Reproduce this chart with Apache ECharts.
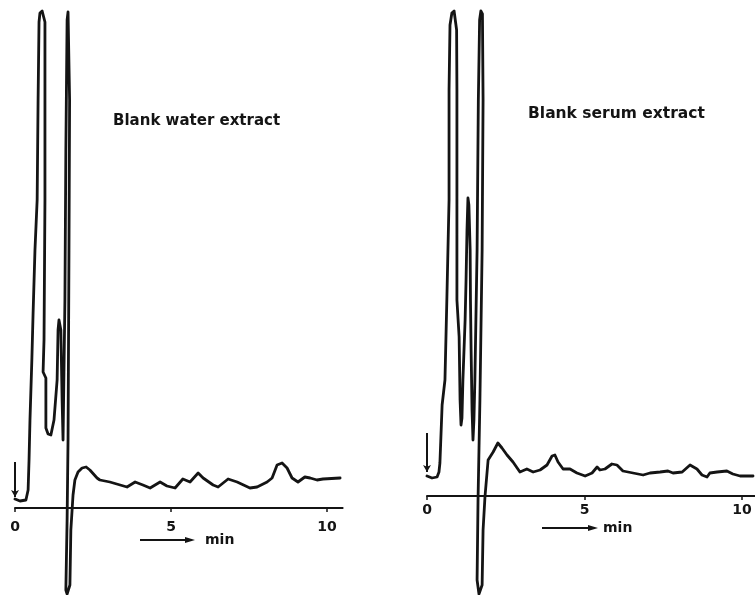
<!DOCTYPE html>
<html>
<head>
<meta charset="utf-8">
<script src="https://cdn.jsdelivr.net/npm/echarts@6/dist/echarts.min.js"></script>
<style>
  html, body { margin: 0; padding: 0; background: #fff; }
  #chart { width: 755px; height: 595px; }
</style>
</head>
<body>
<div id="chart"></div>
<script>
// Two HPLC traces of blank extracts: retention time (min) against detector response (arbitrary units).
const tickLabels = [0, 5, 10];
const panelTitles = ['Blank water extract', 'Blank serum extract'];
const axisUnit = 'min';

// Blank water extract
const waterTime = [0, 0.16, 0.35, 0.42, 0.45, 0.48, 0.54, 0.58, 0.64, 0.71, 0.74, 0.77, 0.80, 0.87, 0.93, 0.96,
  0.96, 0.93, 0.90, 0.99, 0.99, 1.06, 1.15, 1.25, 1.35, 1.38, 1.41, 1.47, 1.51, 1.54,
  1.60, 1.63, 1.67, 1.70, 1.73, 1.75, 1.73, 1.70, 1.67, 1.63, 1.67, 1.73, 1.76, 1.79,
  1.86, 1.92, 2.02, 2.15, 2.28, 2.40, 2.63, 2.72, 3.04, 3.37, 3.59, 3.85, 4.10, 4.33,
  4.65, 4.87, 5.13, 5.38, 5.61, 5.87, 6.03, 6.35, 6.51, 6.83, 7.12, 7.53, 7.76, 8.08,
  8.24, 8.40, 8.56, 8.72, 8.88, 9.07, 9.29, 9.46, 9.68, 9.87, 10.42];
const waterResponse = [1.8, 1.4, 1.6, 3.6, 9.6, 17.6, 29.6, 39.0, 51.6, 61.6, 81.6, 97.2, 99.0, 99.4, 99.0, 97.2,
  61.6, 33.6, 27.2, 26.0, 16.0, 14.8, 14.6, 17.6, 25.6, 35.6, 37.6, 35.6, 21.6, 13.6,
  41.6, 71.6, 97.6, 99.2, 99.2, 81.6, 51.6, 13.6, -2.4, -16.4, -17.2, -17.2, -15.4, -4.4,
  2.6, 5.6, 7.2, 8.0, 8.2, 7.6, 6.0, 5.6, 5.2, 4.6, 4.2, 5.2, 4.6, 4.0,
  5.2, 4.4, 4.0, 5.8, 5.2, 7.0, 6.0, 4.6, 4.2, 5.8, 5.2, 4.0, 4.2, 5.2,
  6.0, 8.6, 9.0, 8.0, 6.0, 5.2, 6.2, 6.0, 5.6, 5.8, 6.0];
const waterInjection = [9.2, 2.2];

// Blank serum extract
const serumTime = [0, 0.16, 0.32, 0.38, 0.41, 0.48, 0.57, 0.63, 0.70, 0.70, 0.73, 0.79, 0.86, 0.92, 0.94,
  0.95, 0.95, 0.95, 1.02, 1.05, 1.08, 1.11, 1.14, 1.21, 1.24, 1.27, 1.30, 1.33, 1.37, 1.38,
  1.40, 1.43, 1.46, 1.49, 1.52, 1.59, 1.63, 1.67, 1.71, 1.76, 1.78, 1.75, 1.68, 1.62,
  1.59, 1.65, 1.71, 1.75, 1.78, 1.84, 1.94, 2.10, 2.25, 2.38, 2.54, 2.73, 2.95, 3.17,
  3.37, 3.59, 3.81, 3.97, 4.06, 4.16, 4.32, 4.54, 4.76, 5.02, 5.24, 5.40, 5.49, 5.65,
  5.87, 6.03, 6.22, 6.54, 6.86, 7.08, 7.40, 7.65, 7.81, 8.10, 8.35, 8.57, 8.73, 8.89,
  8.98, 9.21, 9.52, 9.71, 9.94, 10.35];
const serumResponse = [4.0, 3.6, 3.8, 4.8, 6.6, 18.2, 23.2, 39.2, 59.2, 81.2, 94.2, 96.6, 97.0, 96.6, 93.2,
  81.2, 59.2, 39.2, 31.8, 19.2, 14.2, 15.6, 23.2, 35.2, 43.2, 53.2, 59.6, 58.2, 49.2, 39.2,
  29.2, 17.2, 11.2, 15.2, 23.2, 49.2, 79.2, 95.2, 97.0, 96.4, 79.2, 49.2, 19.2, -0.8,
  -16.8, -19.6, -19.6, -17.8, -6.8, -0.2, 7.2, 8.8, 10.6, 9.6, 8.2, 6.8, 4.8, 5.4,
  4.8, 5.2, 6.2, 8.0, 8.2, 6.8, 5.4, 5.4, 4.6, 4.0, 4.6, 5.8, 5.2, 5.4,
  6.4, 6.2, 5.0, 4.6, 4.2, 4.6, 4.8, 5.0, 4.6, 4.8, 6.2, 5.4, 4.2, 3.8,
  4.6, 4.8, 5.0, 4.4, 4.0, 4.0];
const serumInjection = [12.6, 4.8];

const ink = '#141414';
const font = 'DejaVu Sans';
const zip = (xs, ys) => xs.map((x, i) => [x, ys[i]]);

// The time axis sits on the zero-response line (grid bottom); negative
// excursions of the trace are drawn below it, unclipped.
function xAxisFor(gridIndex, max, labelMargin) {
  return {
    type: 'value', gridIndex, min: 0, max, position: 'bottom',
    axisLine: { onZero: false, lineStyle: { color: ink, width: 2 } },
    axisTick: { customValues: tickLabels, length: 4, lineStyle: { color: ink, width: 1.5 } },
    axisLabel: {
      customValues: tickLabels, margin: labelMargin, color: ink,
      fontFamily: font, fontWeight: 'bold', fontSize: 14
    },
    splitLine: { show: false }
  };
}
function yAxisFor(gridIndex) {
  return { type: 'value', gridIndex, min: 0, max: 100, show: false };
}
function traceSeries(idx, data, inj) {
  return {
    type: 'line', xAxisIndex: idx, yAxisIndex: idx, data,
    showSymbol: false, smooth: false, clip: false,
    lineStyle: { color: ink, width: 2.8, join: 'round', cap: 'round' },
    markLine: {
      silent: true, animation: false,
      symbol: ['none', 'arrow'], symbolSize: [6, 7],
      lineStyle: { color: ink, width: 2, type: 'solid' },
      label: { show: false },
      data: [[{ coord: [0, inj[0]] }, { coord: [0, inj[1]] }]]
    }
  };
}

function unitArrow(x, y, len) {
  return [
    { type: 'line', shape: { x1: x, y1: y, x2: x + len - 6, y2: y }, style: { stroke: ink, lineWidth: 2 } },
    { type: 'polygon', shape: { points: [[x + len - 10, y - 3], [x + len, y], [x + len - 10, y + 3]] }, style: { fill: ink } }
  ];
}

const chart = echarts.init(document.getElementById('chart'), null, { renderer: 'canvas' });
chart.setOption({
  animation: false,
  backgroundColor: '#fff',
  grid: [
    { left: 15, top: 8, width: 327.6, height: 500, outerBoundsMode: 'none', containLabel: false },
    { left: 427, top: -4, width: 327.6, height: 500, outerBoundsMode: 'none', containLabel: false }
  ],
  xAxis: [xAxisFor(0, 10.5, 12), xAxisFor(1, 10.4, 7)],
  yAxis: [yAxisFor(0), yAxisFor(1)],
  title: [
    { text: panelTitles[0], left: 108, top: 109,
      textStyle: { fontFamily: font, fontWeight: 'bold', fontSize: 15, color: ink } },
    { text: panelTitles[1], left: 523, top: 101,
      textStyle: { fontFamily: font, fontWeight: 'bold', fontSize: 15.5, color: ink } }
  ],
  graphic: [
    ...unitArrow(140, 540, 55),
    { type: 'text', x: 205, y: 540, style: { text: axisUnit, fill: ink, font: 'bold 14px "DejaVu Sans"', verticalAlign: 'middle' } },
    ...unitArrow(542, 528, 56),
    { type: 'text', x: 603, y: 528, style: { text: axisUnit, fill: ink, font: 'bold 14px "DejaVu Sans"', verticalAlign: 'middle' } }
  ],
  series: [
    traceSeries(0, zip(waterTime, waterResponse), waterInjection),
    traceSeries(1, zip(serumTime, serumResponse), serumInjection)
  ]
});
</script>
</body>
</html>
